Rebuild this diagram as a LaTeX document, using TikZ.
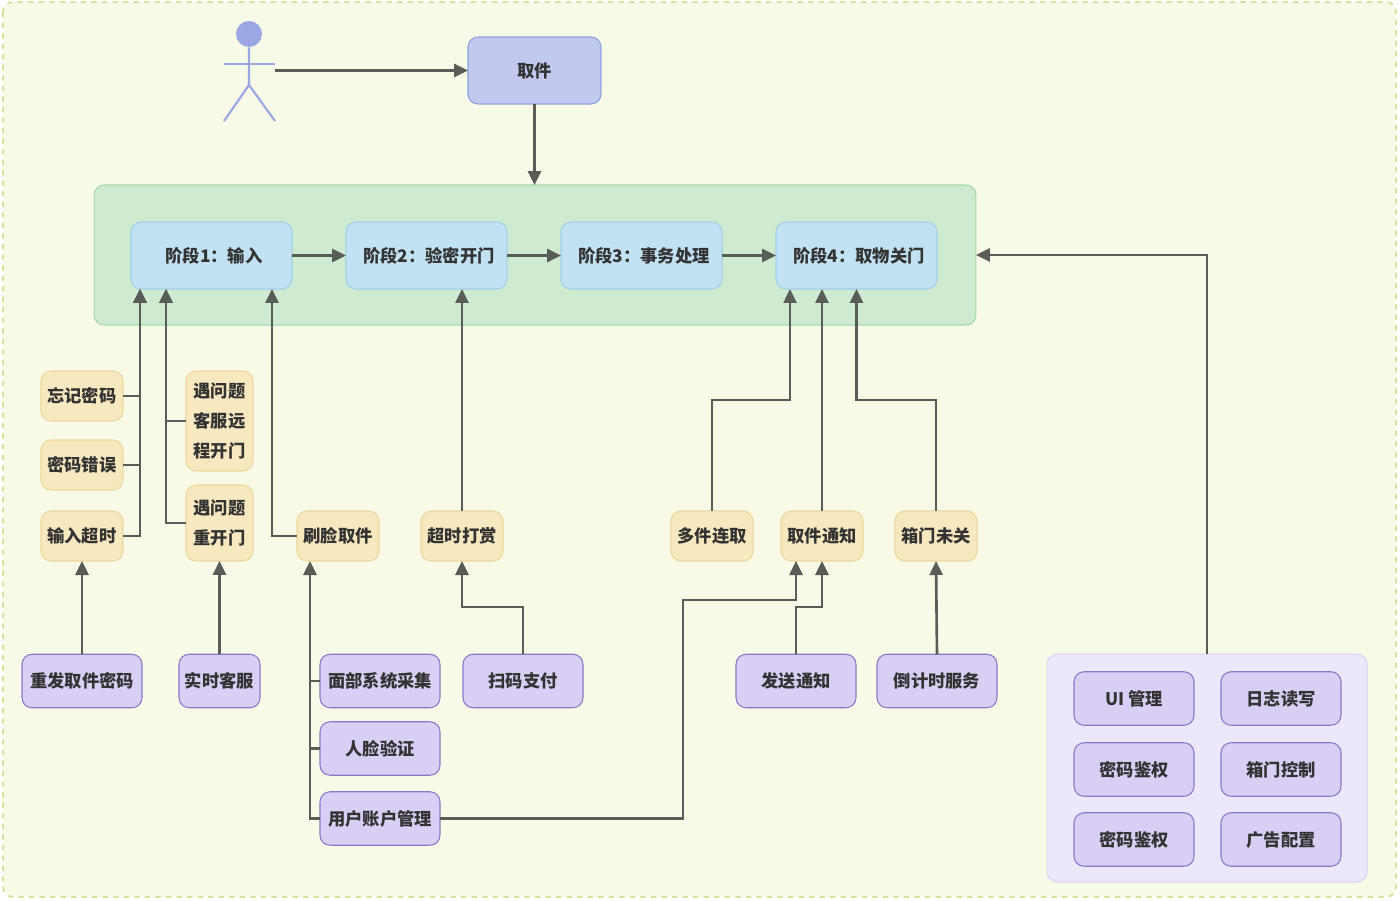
\documentclass[tikz,border=0pt]{standalone}
\usepackage{fontspec}
\usepackage{xcolor}
\usetikzlibrary{positioning,arrows.meta,calc}
\setmainfont{Noto Sans CJK SC}
\definecolor{cpage}{HTML}{F6FAE7}
\definecolor{cpageline}{HTML}{D6E2A0}
\definecolor{cgreen}{HTML}{CEEBD1}
\definecolor{cgreenline}{HTML}{A6D8AC}
\definecolor{cstage}{HTML}{C2E2F4}
\definecolor{cstageline}{HTML}{9FD0E8}
\definecolor{cyellow}{HTML}{F8E8BF}
\definecolor{cyellowline}{HTML}{ECD89C}
\definecolor{cpurple}{HTML}{D9CEF4}
\definecolor{cpurpleline}{HTML}{8A78C8}
\definecolor{cpanel}{HTML}{EDE7FB}
\definecolor{cpanelline}{HTML}{DDD4F4}
\definecolor{cblue}{HTML}{C1CAEE}
\definecolor{cblueline}{HTML}{8E9FE0}
\definecolor{cactor}{HTML}{9AA7E2}
\definecolor{cflow}{HTML}{595C57}
\definecolor{ctext}{HTML}{333333}

\begin{document}
\begin{tikzpicture}[x=0.02cm, y=-0.02cm,
  base/.style={rounded corners=0.2cm, align=center, outer sep=0pt, inner sep=0pt,
               line width=0.6pt, text=ctext,
               font=\fontsize{9.85}{17}\selectfont\bfseries},
  stage/.style={base, fill=cstage, draw=cstageline, minimum width=3.22cm, minimum height=1.34cm,
                execute at begin node=\hspace*{0.1cm}},
  fault/.style={base, fill=cyellow, draw=cyellowline, minimum width=1.64cm, minimum height=1cm},
  svc/.style={base, fill=cpurple, draw=cpurpleline, minimum width=2.4cm, minimum height=1.07cm},
  flow/.style={-{Triangle[length=0.28cm,width=0.26cm]}, line width=1.5pt, draw=cflow},
  tie/.style={line width=1.5pt, draw=cflow},
  limb/.style={line width=1.2pt, draw=cactor}]
\useasboundingbox (0,0) rectangle (1400,900);
\draw[draw=cpageline, fill=cpage, line width=1.1pt, dashed, rounded corners=0.2cm] (3,2) rectangle (1396,897);

% person
\node[circle, fill=cactor, minimum width=0.52cm, inner sep=0pt] (head) at (249,34) {};
\coordinate (hip) at (249,85);
\coordinate (hand) at (275,70.5);
\draw[limb] (head.south) -- (hip) -- (224,121);
\draw[limb] (hip) -- (275,121);
\draw[limb] (224,64) -- (275,64);

\node[base, fill=cblue, draw=cblueline, minimum width=2.66cm, minimum height=1.34cm] (pick) at (534.5,70.5) {取件};

% stages
\node[base, fill=cgreen, draw=cgreenline, minimum width=17.64cm, minimum height=2.8cm] (flowbox) at (535,255) {};
\node[stage] (stageA) at (211.5,255.5) {阶段1：输入};
\node[stage] (stageB) at (426.5,255.5) {阶段2：验密开门};
\node[stage] (stageC) at (641.5,255.5) {阶段3：事务处理};
\node[stage] (stageD) at (856.5,255.5) {阶段4：取物关门};

% branches
\node[fault] (forget) at (82,396) {忘记密码};
\node[fault] (wrong) at (82,465) {密码错误};
\node[fault] (late) at (82,536) {输入超时};
\node[fault, minimum width=1.34cm, minimum height=2cm] (remote) at (219.5,421) {遇问题\\客服远\\程开门};
\node[fault, minimum width=1.34cm, minimum height=1.52cm] (reopen) at (219.5,523) {遇问题\\重开门};
\node[fault] (face) at (338,536) {刷脸取件};
\node[fault] (tip) at (462,536) {超时打赏};
\node[fault] (multi) at (712,536) {多件连取};
\node[fault] (notice) at (822,536) {取件通知};
\node[fault] (ajar) at (936,536) {箱门未关};

% services
\node[svc] (resend) at (82,681) {重发取件密码};
\node[svc, minimum width=1.62cm] (agent) at (219.5,681) {实时客服};
\node[svc] (capture) at (380,681) {面部系统采集};
\node[svc] (verify) at (380,748.5) {人脸验证};
\node[svc] (account) at (380,818.5) {用户账户管理};
\node[svc] (scan) at (523,681) {扫码支付};
\node[svc] (send) at (796,681) {发送通知};
\node[svc] (timer) at (937,681) {倒计时服务};

\node[base, fill=cpanel, draw=cpanelline, minimum width=6.4cm, minimum height=4.56cm] (panel) at (1207,768) {};
\node[svc] (ui) at (1134,698.5) {UI 管理};
\node[svc] (log) at (1281,698.5) {日志读写};
\node[svc] (auth) at (1134,769.5) {密码鉴权};
\node[svc] (door) at (1281,769.5) {箱门控制};
\node[svc] (authb) at (1134,839.5) {密码鉴权};
\node[svc] (ads) at (1281,839.5) {广告配置};

\draw[flow] (hand) -- (hand -| pick.west);
\draw[flow] (pick.south) -- (pick.south |- flowbox.north);
\draw[flow] (stageA) -- (stageB);
\draw[flow] (stageB) -- (stageC);
\draw[flow] (stageC) -- (stageD);

\draw[flow] (forget.east) -| ([xshift=0.18cm]stageA.south west);
\draw[flow] (wrong.east) -| ([xshift=0.18cm]stageA.south west);
\draw[flow] (late.east) -| ([xshift=0.18cm]stageA.south west);
\draw[flow] (remote.west) -| ([xshift=0.7cm]stageA.south west);
\draw[flow] (reopen.west) -| ([xshift=0.7cm]stageA.south west);
\draw[flow] (face.west) -| ([xshift=2.82cm]stageA.south west);
\draw[flow] (tip.north) -- (tip.north |- stageB.south);
\draw[flow] (multi.north) |- ($(stageD.south west)+(0.28cm,-2.22cm)$) -- ([xshift=0.28cm]stageD.south west);
\draw[flow] (notice.north) -- (notice.north |- stageD.south);
\draw[flow] (ajar.north) |- ($(stageD.south)+(0,-2.22cm)$) -- (stageD.south);

\draw[flow] (resend.north) -- (resend.north |- late.south);
\draw[flow] (agent.north) -- (reopen.south);
\draw[flow] (scan.north) |- ($(tip.south)+(0,-0.92cm)$) -- (tip.south);
\draw[flow] (send.north) |- ($(notice.south)+(0,-0.92cm)$) -- (notice.south);
\draw[flow] (timer.north) -- (ajar.south);
\draw[flow] (panel.north) |- (flowbox.east);

% the three face services share one riser
\coordinate (riser) at ([xshift=0.26cm]face.south west);
\draw[tie] (capture.west) -- (capture.west -| riser);
\draw[tie] (verify.west) -- (verify.west -| riser);
\draw[flow] (account.west) -| (riser);
\draw[flow] (account.east) -| ($(notice.south west)+(-1.96cm,-0.78cm)$) -| ([xshift=0.3cm]notice.south west);
\end{tikzpicture}
\end{document}
